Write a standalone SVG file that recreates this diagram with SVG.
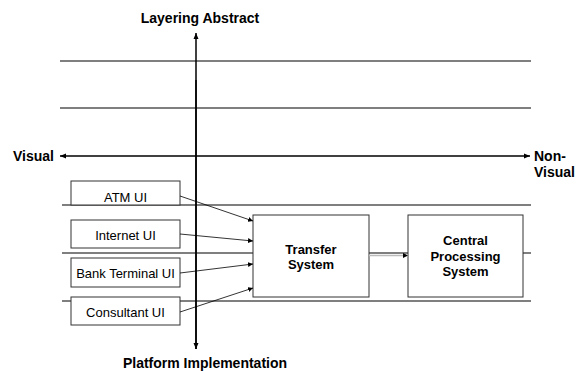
<svg xmlns="http://www.w3.org/2000/svg" width="577" height="371" viewBox="0 0 577 371">
<style>
.layer{stroke:#555;stroke-width:1.3;fill:none}
.axis{stroke:#000;stroke-width:1.5;fill:none}
.box{fill:#fff;stroke:#333;stroke-width:1}
.conn{stroke:#000;stroke-width:0.8;fill:none}
text{font-family:"Liberation Sans",Arial,sans-serif;fill:#000}
.b{font-weight:bold;font-size:14px}
.lbl{font-size:13px}
.bl{font-size:13px;font-weight:bold}
</style>
<defs>
<marker id="ah" markerWidth="6" markerHeight="6" refX="5" refY="3" orient="auto" markerUnits="userSpaceOnUse"><path d="M0,0.5 L5,3 L0,5.5 Z" fill="#000"/></marker>
<marker id="ax" markerWidth="7" markerHeight="7" refX="6" refY="3.5" orient="auto" markerUnits="userSpaceOnUse"><path d="M0,1 L6,3.5 L0,6 Z" fill="#000"/></marker>
</defs>
<g id="layers">
<line class="layer" x1="60" y1="61" x2="531" y2="61"/>
<line class="layer" x1="60" y1="108" x2="531" y2="108"/>
<line class="layer" x1="62" y1="205" x2="531" y2="205"/>
<line class="layer" x1="62" y1="253" x2="531" y2="253"/>
<line class="layer" x1="62" y1="301" x2="531" y2="301"/>
</g>
<g id="axes">
<line class="axis" x1="196" y1="349" x2="196" y2="33" marker-end="url(#ax)"/>
<line class="axis" x1="196" y1="80" x2="196" y2="349" marker-end="url(#ax)"/>
<line class="axis" x1="300" y1="156" x2="60" y2="156" marker-end="url(#ax)"/>
<line class="axis" x1="300" y1="156" x2="530" y2="156" marker-end="url(#ax)"/>
<text class="b" x="200" y="23" text-anchor="middle">Layering Abstract</text>
<text class="b" x="205" y="368" text-anchor="middle">Platform Implementation</text>
<text class="b" x="13" y="161">Visual</text>
<text class="b" x="534" y="161">Non-</text>
<text class="b" x="534" y="177">Visual</text>
</g>
<g id="atm"><rect class="box" x="71" y="181" width="109" height="24"/><text class="lbl" x="125.5" y="202" text-anchor="middle">ATM UI</text></g>
<g id="internet"><rect class="box" x="71" y="220" width="109" height="28"/><text class="lbl" x="125.5" y="240" text-anchor="middle">Internet UI</text></g>
<g id="bank"><rect class="box" x="71" y="258" width="109" height="29"/><text class="lbl" x="125.5" y="278" text-anchor="middle">Bank Terminal UI</text></g>
<g id="consultant"><rect class="box" x="71" y="297" width="109" height="28"/><text class="lbl" x="125.5" y="317" text-anchor="middle">Consultant UI</text></g>
<g id="transfer"><rect class="box" x="253" y="215" width="116" height="82"/><text class="bl" x="311" y="254" text-anchor="middle">Transfer</text><text class="bl" x="311" y="269" text-anchor="middle">System</text></g>
<g id="central"><rect class="box" x="408" y="215" width="115" height="82"/><text class="bl" x="465.5" y="245" text-anchor="middle">Central</text><text class="bl" x="465.5" y="261" text-anchor="middle">Processing</text><text class="bl" x="465.5" y="276" text-anchor="middle">System</text></g>
<g id="connectors">
<line class="conn" x1="180" y1="196" x2="253" y2="221" marker-end="url(#ah)"/>
<line class="conn" x1="180" y1="234" x2="253" y2="241" marker-end="url(#ah)"/>
<line class="conn" x1="180" y1="273" x2="253" y2="264" marker-end="url(#ah)"/>
<line class="conn" x1="180" y1="312" x2="253" y2="288" marker-end="url(#ah)"/>
<line x1="369" y1="255.5" x2="408" y2="255.5" stroke="#bbb" stroke-width="1.5" marker-end="url(#ah)"/>
</g>
</svg>
